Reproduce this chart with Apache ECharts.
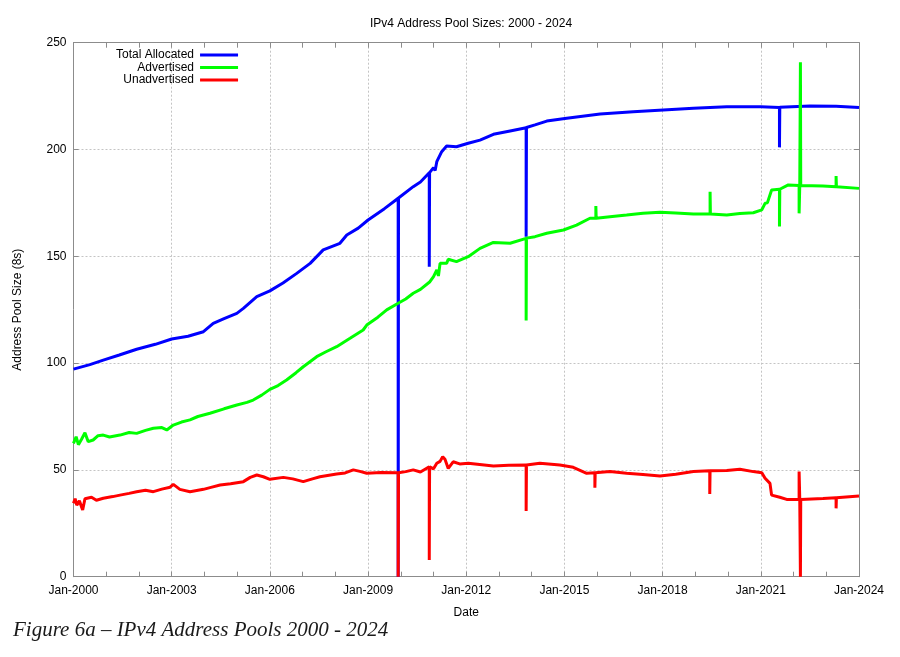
<!DOCTYPE html>
<html>
<head>
<meta charset="utf-8">
<script src="https://cdn.jsdelivr.net/npm/echarts@6/dist/echarts.min.js"></script>
<style>
html,body{margin:0;padding:0;background:#fff;}
#chart{width:900px;height:657px;}
</style>
</head>
<body>
<div id="chart"></div>
<script>
// x values: years since Jan-2000
const xTickLabels = ['Jan-2000','Jan-2003','Jan-2006','Jan-2009','Jan-2012','Jan-2015','Jan-2018','Jan-2021','Jan-2024'];
const seriesNames = ['Total Allocated','Advertised','Unadvertised'];

const totalAllocated = [[0,97.2],[0.5,99.3],[0.91,101.4],[1.4,103.8],[1.93,106.5],[2.5,108.8],[3.0,111.3],[3.5,112.6],[3.97,114.7],[4.27,118.6],[4.6,120.8],[4.99,123.3],[5.19,125.6],[5.6,131.1],[6.0,133.8],[6.4,137.5],[6.82,142.0],[7.23,146.7],[7.63,153.0],[8.14,156.1],[8.35,160.0],[8.7,163.2],[9.0,167.0],[9.5,172.3],[9.92,177.2],[9.92,0],[9.93,177.3],[10.38,182.6],[10.6,184.8],[10.87,189.1],[10.87,145.1],[10.88,189.2],[11.0,191.5],[11.05,190.2],[11.1,194.3],[11.25,199.0],[11.4,201.6],[11.7,201.3],[12.06,202.9],[12.42,204.4],[12.83,207.1],[13.34,208.7],[13.83,210.2],[13.83,159.2],[13.84,210.3],[14.1,211.5],[14.46,213.3],[15.07,214.6],[16.09,216.6],[17.1,217.7],[18.02,218.5],[18.94,219.3],[19.96,220.0],[21.0,220.0],[21.57,219.7],[21.57,201.0],[21.58,219.8],[22.5,220.4],[23.3,220.2],[24.0,219.7]];

const advertised = [[0,62.4],[0.08,65.5],[0.15,61.8],[0.25,64.5],[0.35,67.4],[0.45,63.2],[0.6,64.0],[0.75,66.0],[0.91,66.3],[1.1,65.4],[1.42,66.3],[1.7,67.5],[1.93,67.1],[2.2,68.5],[2.44,69.5],[2.7,69.8],[2.85,68.7],[3.05,71.0],[3.3,72.4],[3.56,73.4],[3.8,75.0],[4.17,76.5],[4.6,78.6],[4.99,80.4],[5.3,81.6],[5.49,82.7],[5.75,85.0],[6.0,87.7],[6.25,89.5],[6.51,92.1],[6.8,95.5],[7.02,98.3],[7.43,103.0],[7.7,105.2],[8.04,107.7],[8.45,111.6],[8.85,115.5],[8.96,117.8],[9.3,121.5],[9.57,124.9],[9.92,128.0],[10.15,130.0],[10.38,132.7],[10.6,134.5],[10.89,138.1],[11.0,140.5],[11.1,143.6],[11.15,140.8],[11.2,146.7],[11.4,146.7],[11.45,148.6],[11.7,147.5],[12.06,149.8],[12.42,153.7],[12.83,156.5],[13.34,156.1],[13.83,158.4],[13.83,120.0],[13.84,158.5],[14.1,159.2],[14.46,160.8],[14.97,162.3],[15.37,164.6],[15.78,167.8],[15.96,167.8],[15.96,173.5],[15.97,167.8],[16.39,168.5],[16.9,169.3],[17.4,170.2],[17.92,170.6],[18.4,170.3],[18.94,169.8],[19.45,169.8],[19.45,180.2],[19.46,169.8],[19.96,169.3],[20.36,170.0],[20.77,170.4],[21.03,171.7],[21.13,174.8],[21.2,175.0],[21.33,181.0],[21.57,181.4],[21.57,163.9],[21.58,181.4],[21.84,183.4],[22.17,183.1],[22.17,170.1],[22.19,183.1],[22.21,183.1],[22.21,240.8],[22.22,183.1],[22.9,182.9],[23.3,182.6],[23.3,187.6],[23.31,182.6],[24.0,181.8]];

const unadvertised = [[0,34.4],[0.05,36.5],[0.1,33.5],[0.18,35.5],[0.28,31.2],[0.35,36.5],[0.4,35.9],[0.55,37.2],[0.7,35.8],[0.91,36.7],[1.2,37.5],[1.42,38.2],[1.7,39.0],[1.93,39.8],[2.2,40.5],[2.44,39.8],[2.7,41.0],[2.95,41.9],[3.05,43.2],[3.25,40.9],[3.56,39.8],[3.97,40.9],[4.2,41.8],[4.48,42.9],[4.8,43.5],[5.19,44.5],[5.4,46.5],[5.6,47.6],[5.8,46.8],[6.0,45.6],[6.41,46.5],[6.7,45.8],[7.02,44.5],[7.3,45.8],[7.53,46.8],[8.04,48.1],[8.3,48.6],[8.55,50.0],[8.75,49.3],[8.96,48.4],[9.4,48.8],[9.92,48.7],[9.92,0],[9.93,48.7],[10.15,49.2],[10.38,50.0],[10.6,49.0],[10.87,51.5],[10.87,7.8],[10.88,51.5],[11.0,50.5],[11.1,53.1],[11.2,54.0],[11.28,56.2],[11.35,55.0],[11.45,50.7],[11.6,53.8],[11.8,52.8],[12.06,53.1],[12.83,51.8],[13.3,52.2],[13.83,52.3],[13.83,30.8],[13.84,52.3],[14.25,53.1],[14.86,52.3],[15.27,51.2],[15.68,48.4],[15.93,48.7],[15.93,41.7],[15.94,48.7],[16.39,49.2],[16.9,48.4],[17.4,47.8],[17.92,47.1],[18.4,48.0],[18.94,49.2],[19.44,49.6],[19.44,38.7],[19.45,49.6],[19.96,49.7],[20.36,50.3],[20.77,49.2],[21.03,48.7],[21.13,46.1],[21.28,43.7],[21.33,38.2],[21.58,37.2],[21.79,36.2],[22.17,36.2],[22.17,49.2],[22.19,36.2],[22.21,0],[22.22,36.2],[22.9,36.6],[23.3,37.0],[23.3,32.0],[23.31,37.0],[24.0,37.8]];

const chart = echarts.init(document.getElementById('chart'));
const axisGray = '#8c8c8c';
const font = 'Liberation Sans, Arial, sans-serif';

const xBase = {
  type: 'value', min: 0, max: 24, interval: 3,
  axisLine: { show: true, onZero: false, lineStyle: { color: axisGray, width: 1 } },
  axisTick: { show: true, inside: true, length: 5, lineStyle: { color: axisGray } },
  minorTick: { show: true, splitNumber: 3, length: 5, lineStyle: { color: axisGray } },
  splitLine: { show: false }
};
const yBase = {
  type: 'value', min: 0, max: 250, interval: 50,
  axisLine: { show: true, onZero: false, lineStyle: { color: axisGray, width: 1 } },
  axisTick: { show: true, inside: true, length: 5, lineStyle: { color: axisGray } },
  splitLine: { show: false }
};

chart.setOption({
  animation: false,
  backgroundColor: '#ffffff',
  title: {
    text: 'IPv4 Address Pool Sizes: 2000 - 2024',
    left: 466, top: 13, textAlign: 'center',
    textStyle: { fontFamily: font, fontSize: 12, fontWeight: 'normal', color: '#000' }
  },
  legend: {
    orient: 'vertical', left: 111, top: 44, align: 'right',
    itemWidth: 38, itemHeight: 3, itemGap: 0.5,
    icon: 'rect',
    data: seriesNames,
    textStyle: { fontFamily: font, fontSize: 12, color: '#000', lineHeight: 12, padding: [0, 1, 0, 0] }
  },
  grid: { left: 73.5, right: 41, top: 42.7, bottom: 80.3, show: false },
  xAxis: [
    Object.assign({}, xBase, {
      position: 'bottom',
      name: 'Date', nameLocation: 'middle', nameGap: 30,
      nameTextStyle: { fontFamily: font, fontSize: 12, color: '#000' },
      axisLabel: { show: true, margin: 8, fontFamily: font, fontSize: 12, color: '#000',
        formatter: function (v) { return xTickLabels[Math.round(v / 3)]; } },
      splitLine: { show: true, lineStyle: { color: '#c4c4c4', type: [2, 2], width: 1 } }
    }),
    Object.assign({}, xBase, { position: 'top', axisLabel: { show: false } })
  ],
  yAxis: [
    Object.assign({}, yBase, {
      position: 'left',
      name: 'Address Pool Size (8s)', nameLocation: 'middle', nameGap: 50, nameRotate: 90,
      nameTextStyle: { fontFamily: font, fontSize: 12, color: '#000' },
      axisLabel: { show: true, margin: 7, fontFamily: font, fontSize: 12, color: '#000' },
      splitLine: { show: true, lineStyle: { color: '#c4c4c4', type: [2, 2], width: 1 } }
    }),
    Object.assign({}, yBase, { position: 'right', axisLabel: { show: false } })
  ],
  series: [
    { name: seriesNames[0], type: 'line', data: totalAllocated, showSymbol: false, symbol: 'none',
      color: '#0000ff', lineStyle: { color: '#0000ff', width: 3 }, clip: true },
    { name: seriesNames[1], type: 'line', data: advertised, showSymbol: false, symbol: 'none',
      color: '#00ff00', lineStyle: { color: '#00ff00', width: 3 }, clip: true },
    { name: seriesNames[2], type: 'line', data: unadvertised, showSymbol: false, symbol: 'none',
      color: '#ff0000', lineStyle: { color: '#ff0000', width: 3 }, clip: true }
  ],
  graphic: [
    { type: 'text', left: 13, top: 620,
      style: { text: 'Figure 6a – IPv4 Address Pools 2000 - 2024', fontFamily: 'Liberation Serif, serif',
        fontStyle: 'italic', fontSize: 21, fill: '#1a1a1a' } }
  ]
});
</script>
</body>
</html>
